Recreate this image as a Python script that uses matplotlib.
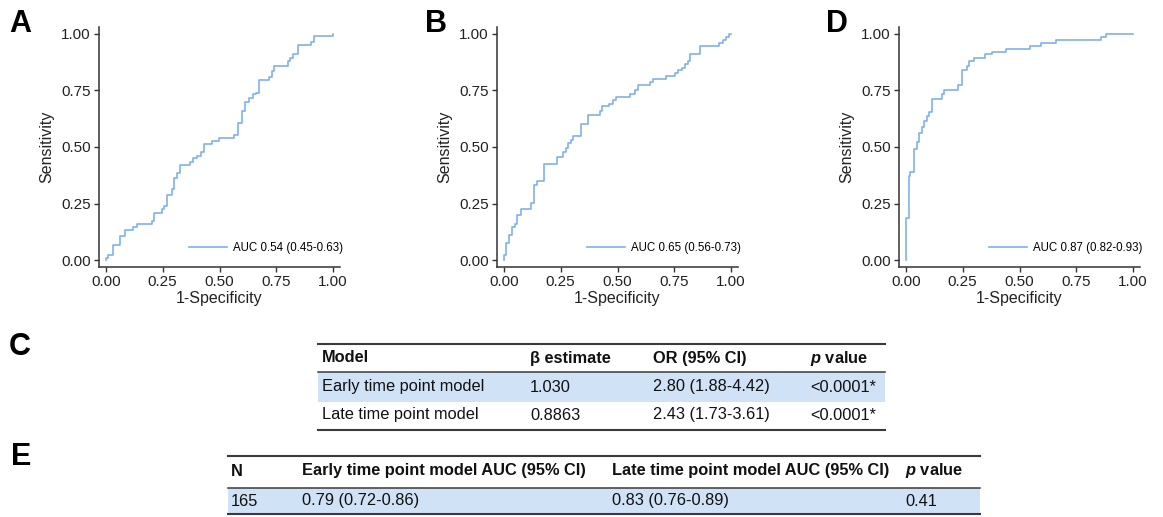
import matplotlib
matplotlib.use("Agg")
import matplotlib.pyplot as plt
from matplotlib.lines import Line2D
from matplotlib.patches import Rectangle

plt.rcParams['font.family'] = ['Liberation Sans', 'DejaVu Sans']
plt.rcParams['mathtext.fontset'] = 'custom'
plt.rcParams['mathtext.it'] = 'Liberation Sans:italic:bold'
plt.rcParams['mathtext.rm'] = 'Liberation Sans:bold'

# ROC curves (fpr, tpr as step corners)
fpr_a = [0, 0, 0.010, 0.032, 0.062, 0.084, 0.118, 0.136, 0.202, 0.213, 0.247, 0.258, 0.269, 0.291,
         0.301, 0.313, 0.325, 0.369, 0.384, 0.402, 0.419, 0.431, 0.465, 0.498, 0.564, 0.583, 0.597,
         0.612, 0.628, 0.648, 0.660, 0.672, 0.719, 0.730, 0.739, 0.801, 0.812, 0.823, 0.845, 0.904,
         0.916, 1.0]
tpr_a = [0, 0.01, 0.025, 0.066, 0.106, 0.135, 0.146, 0.16, 0.175, 0.21, 0.224, 0.24, 0.29, 0.315,
         0.364, 0.386, 0.42, 0.434, 0.45, 0.462, 0.48, 0.514, 0.526, 0.54, 0.555, 0.607, 0.658,
         0.70, 0.716, 0.732, 0.74, 0.794, 0.809, 0.835, 0.857, 0.879, 0.894, 0.909, 0.95, 0.965,
         0.99, 1.0]

fpr_b = [0, 0, 0.010, 0.021, 0.035, 0.047, 0.059, 0.077, 0.121, 0.133, 0.148, 0.177, 0.232, 0.261,
         0.272, 0.284, 0.295, 0.306, 0.340, 0.372, 0.424, 0.431, 0.461, 0.480, 0.495, 0.557, 0.576,
         0.591, 0.645, 0.657, 0.712, 0.753, 0.768, 0.783, 0.796, 0.808, 0.820, 0.864, 0.948, 0.963,
         0.978, 0.990, 1.0]
tpr_b = [0, 0.025, 0.077, 0.113, 0.146, 0.162, 0.20, 0.227, 0.253, 0.334, 0.349, 0.427, 0.456, 0.477,
         0.496, 0.518, 0.533, 0.548, 0.60, 0.64, 0.661, 0.68, 0.692, 0.707, 0.72, 0.732, 0.751,
         0.773, 0.788, 0.80, 0.813, 0.825, 0.838, 0.85, 0.867, 0.882, 0.912, 0.948, 0.96, 0.972,
         0.987, 1.0, 1.0]

fpr_d = [0, 0, 0.012, 0.019, 0.034, 0.049, 0.059, 0.071, 0.081, 0.093, 0.103, 0.115, 0.158, 0.170,
         0.229, 0.248, 0.268, 0.277, 0.302, 0.347, 0.381, 0.440, 0.546, 0.593, 0.661, 0.858, 0.882, 1.0]
tpr_d = [0, 0.187, 0.371, 0.389, 0.493, 0.521, 0.56, 0.589, 0.614, 0.639, 0.654, 0.71, 0.735, 0.751,
         0.776, 0.842, 0.857, 0.879, 0.891, 0.909, 0.920, 0.934, 0.948, 0.96, 0.972, 0.985, 1.0, 1.0]

auc_labels = ["AUC 0.54 (0.45-0.63)", "AUC 0.65 (0.56-0.73)", "AUC 0.87 (0.82-0.93)"]
ticks = [0.0, 0.25, 0.5, 0.75, 1.0]
tick_labels = ["0.00", "0.25", "0.50", "0.75", "1.00"]

# tables
c_header = ["Model", "\u03b2 estimate", "OR (95% CI)", "$p$ value"]
c_rows = [["Early time point model", "1.030", "2.80 (1.88-4.42)", "<0.0001*"],
          ["Late time point model", "0.8863", "2.43 (1.73-3.61)", "<0.0001*"]]
e_header = ["N", "Early time point model AUC (95% CI)", "Late time point model AUC (95% CI)", "$p$ value"]
e_rows = [["165", "0.79 (0.72-0.86)", "0.83 (0.76-0.89)", "0.41"]]

W, H = 1163, 517
def fx(px):
    return px / W
def fy(py):
    return 1 - py / H

fig = plt.figure(figsize=(W / 100, H / 100), dpi=100)

curve_col = '#80b1ee'
dark = '#222222'
panels = [(99, fpr_a, tpr_a, auc_labels[0]),
          (497, fpr_b, tpr_b, auc_labels[1]),
          (899, fpr_d, tpr_d, auc_labels[2])]
for left, fpr, tpr, lab in panels:
    ax = fig.add_axes([fx(left), fy(267), 241 / W, 240 / H])
    ax.step(fpr, tpr, where='post', color=curve_col, lw=1.2, label=lab)
    ax.set_xlim(-0.03, 1.03)
    ax.set_ylim(-0.03, 1.03)
    ax.set_xticks(ticks)
    ax.set_xticklabels(tick_labels)
    ax.set_yticks(ticks)
    ax.set_yticklabels(tick_labels)
    for s in ['top', 'right']:
        ax.spines[s].set_visible(False)
    for s in ['left', 'bottom']:
        ax.spines[s].set_color('#333333')
        ax.spines[s].set_linewidth(1.1)
    ax.tick_params(length=3.5, width=1.0, color='#333333', labelsize=11, labelcolor=dark, pad=2.5)
    ax.set_xlabel("1-Specificity", fontsize=11.5, color=dark, labelpad=1.5)
    ax.set_ylabel("Sensitivity", fontsize=11.5, color=dark, labelpad=5)
    ax.legend(loc='center left', bbox_to_anchor=(0.375, 0.08), frameon=False, fontsize=8.3,
              handlelength=3.3, handletextpad=0.45, borderpad=0, borderaxespad=0)

# panel letters
for lab, x, y in [("A", 9, 32), ("B", 425, 32), ("D", 826, 32), ("C", 9, 355), ("E", 11, 465)]:
    fig.text(fx(x), fy(y), lab, fontsize=22, fontweight='bold', va='baseline', ha='left')

rule_col = '#3a3a3a'
fill_col = '#d0e2f5'
tsize = 11.8

def hline(x0, x1, y, lw):
    fig.add_artist(Line2D([fx(x0), fx(x1)], [fy(y), fy(y)], transform=fig.transFigure,
                          color=rule_col, lw=lw))

def band(x0, x1, y0, y1):
    fig.add_artist(Rectangle((fx(x0), fy(y1)), (x1 - x0) / W, (y1 - y0) / H,
                             transform=fig.transFigure, facecolor=fill_col, edgecolor='none'))

# table C
c_x = [322, 530, 653, 810]
band(318, 885, 372, 402)
hline(318, 885, 344, 1.5)
hline(318, 885, 372, 1.1)
hline(318, 885, 430, 1.5)
for x, t in zip(c_x, c_header):
    fig.text(fx(x), fy(358), t, fontsize=tsize, fontweight='bold', va='center', ha='left', color='#111111')
for y, row in zip([387, 415], c_rows):
    for x, t in zip(c_x, row):
        fig.text(fx(x), fy(y), t, fontsize=tsize, va='center', ha='left', color='#111111')

# table E
e_x = [231, 302, 612, 905]
band(228, 980, 488, 514)
hline(228, 980, 456, 1.5)
hline(228, 980, 488, 1.1)
hline(228, 980, 514, 1.5)
for x, t in zip(e_x, e_header):
    fig.text(fx(x), fy(471), t, fontsize=tsize, fontweight='bold', va='center', ha='left', color='#111111')
for y, row in zip([501], e_rows):
    for x, t in zip(e_x, row):
        fig.text(fx(x), fy(y), t, fontsize=tsize, va='center', ha='left', color='#111111')

fig.savefig("out.png", dpi=100)
